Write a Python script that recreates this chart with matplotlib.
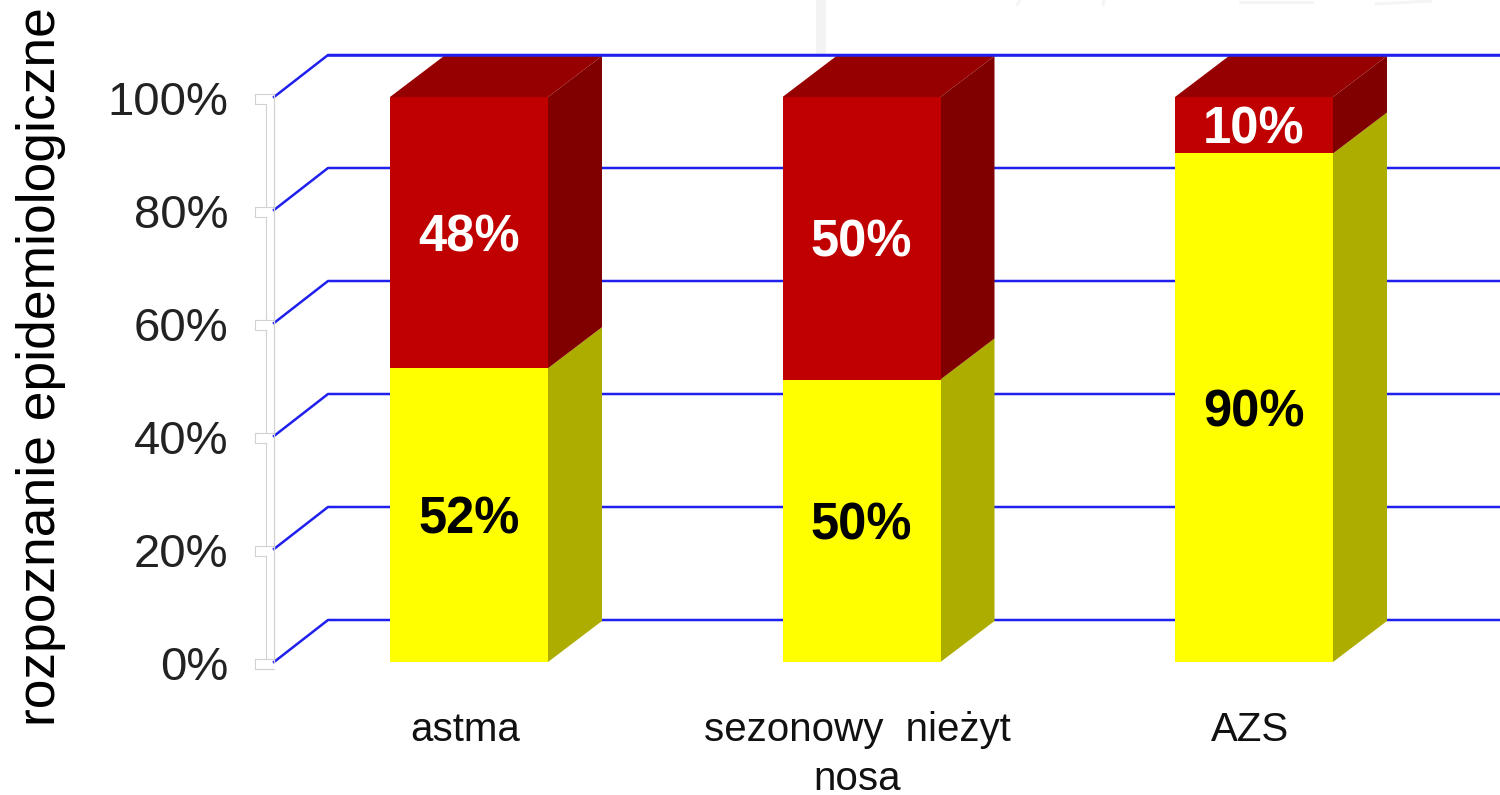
import numpy as np
import matplotlib
matplotlib.use('Agg')
import matplotlib.pyplot as plt

categories = ['astma', 'sezonowy  nieżyt\nnosa', 'AZS']
yellow_vals = [52, 50, 90]
red_vals = [48, 50, 10]
yticks = [0, 20, 40, 60, 80, 100]
ytick_labels = ['0%', '20%', '40%', '60%', '80%', '100%']
ylabel = 'rozpoznanie epidemiologiczne'

plt.rcParams['font.family'] = ['Liberation Sans', 'DejaVu Sans']

W, H = 1500, 795
fig = plt.figure(figsize=(W / 100, H / 100), dpi=100)
ax = fig.add_axes([0, 0, 1, 1])

# pixels <-> data
x_unit = 392.5
y_unit = 5.65
x0_px = 469
y0_px = 662


def px_x(p):
    return (p - x0_px) / x_unit


def px_y(p):
    return (y0_px - p) / y_unit


ax.set_xlim(px_x(0), px_x(W))
ax.set_ylim(px_y(H), px_y(0))
ax.axis('off')

dx = 54 / x_unit
dy = 42 / y_unit
bar_dy = 41 / y_unit
bar_w = 158 / x_unit
wall_x = px_x(274)
blue = '#2020EE'
text_shift = 5 / y_unit

# faint leftovers of the slide behind the chart
ax.fill_between([px_x(816), px_x(826)], px_y(55), px_y(0), color='#F3F3F3', lw=0, zorder=0)
for a, b, c, d in [(1017, 1020, 5, 0), (1103, 1104, 5, 0), (1240, 1312, 2, 2), (1376, 1431, 4, 1)]:
    ax.plot([px_x(a), px_x(b)], [px_y(c), px_y(d)], color='#F4F4F4', lw=2, zorder=0)

# grid, on the wall and the back
for v in yticks:
    ax.plot([wall_x, wall_x + dx, px_x(W)], [v, v + dy, v + dy], color=blue, lw=1.8, zorder=1,
            solid_joinstyle='round')

# wall edge with the tick notches
wall = '#D2D2D2'
left = px_x(255)
inner = px_x(266)
box_top = 3 / y_unit
box_bot = -7 / y_unit
ax.plot([wall_x, wall_x], [0, 100 + box_top], color=wall, lw=0.9, zorder=2)
for i, v in enumerate(yticks):
    ax.plot([wall_x, left, left, inner], [v + box_top, v + box_top, v + box_bot, v + box_bot],
            color=wall, lw=0.8, zorder=2)
    if i < len(yticks) - 1:
        ax.plot([inner, inner], [v + box_top, yticks[i + 1] + box_bot], color=wall, lw=0.8, zorder=2)
ax.plot([left, wall_x], [box_bot, box_bot], color=wall, lw=0.8, zorder=2)

x = np.arange(len(categories))
yellow = np.array(yellow_vals)
red = np.array(red_vals)

ax.bar(x, yellow, bar_w, color='#FFFF00', lw=0, zorder=4)
ax.bar(x, red, bar_w, bottom=yellow, color='#C00000', lw=0, zorder=4)

for i in x:
    r = i + bar_w / 2
    l = i - bar_w / 2
    y = yellow[i]
    t = y + red[i]
    ax.fill([r, r + dx, r + dx, r], [0, bar_dy, y + bar_dy, y], color='#ADAD00', lw=0, zorder=3)
    ax.fill([r, r + dx, r + dx, r], [y, y + bar_dy, t + bar_dy, t], color='#800000', lw=0, zorder=3)
    ax.fill([l, l + dx, r + dx, r], [t, t + bar_dy, t + bar_dy, t], color='#960000', lw=0, zorder=3)

    ax.text(i, y / 2 - text_shift, '%d%%' % y, ha='center', va='center', fontsize=36.5,
            fontweight='bold', color='black', zorder=5)
    ax.text(i, y + red[i] / 2 - text_shift, '%d%%' % red[i], ha='center', va='center', fontsize=36.5,
            fontweight='bold', color='white', zorder=5)

# top line sits over the bar tops
ax.plot([wall_x + dx, px_x(W)], [100 + dy, 100 + dy], color=blue, lw=1.8, zorder=6)

for v, s in zip(yticks, ytick_labels):
    ax.text(px_x(228), v - 6 / y_unit, s, ha='right', va='center', fontsize=34, color='#222222')

for i, s in enumerate(categories):
    ax.text(i - 4 / x_unit, px_y(711), s, ha='center', va='top', fontsize=29,
            color='#111111', linespacing=1.36)

ax.text(px_x(41), px_y(367), ylabel, rotation=90, ha='center', va='center', fontsize=38.4, color='black')

fig.savefig('out.png', dpi=100)
